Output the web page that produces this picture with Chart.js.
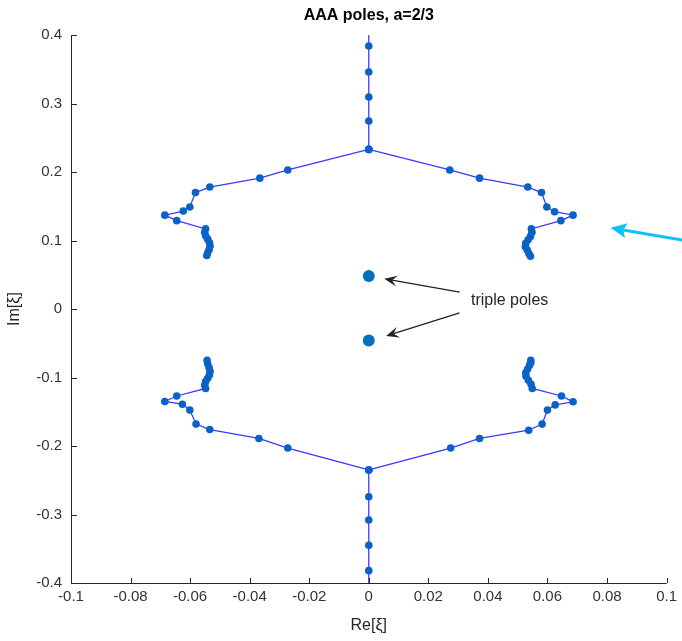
<!DOCTYPE html>
<html>
<head>
<meta charset="utf-8">
<script src="https://cdn.jsdelivr.net/npm/chart.js@4"></script>
<style>
  html, body { margin: 0; padding: 0; background: #fff; }
  canvas { display: block; }
</style>
</head>
<body>
<canvas id="grafico" width="682" height="641"></canvas>
<script>
// poles on the imaginary axis (top and bottom), clipped at the axis limits
const verticalArribaX = [0, 0, 0, 0, 0, 0];
const verticalArribaY = [0.42, 0.384, 0.346, 0.3095, 0.2745, 0.233];
const verticalAbajoX = [0, 0, 0, 0, 0, 0];
const verticalAbajoY = [-0.235, -0.274, -0.308, -0.345, -0.382, -0.42];

// upper left branch, from the junction outwards
const supIzqX = [0, -0.0272, -0.0366, -0.0534, -0.0582, -0.0601, -0.0623, -0.0685, -0.0645, -0.0548, -0.0551, -0.0548, -0.0541, -0.0535, -0.0533, -0.0536, -0.0541, -0.0544];
const supIzqY = [0.233, 0.203, 0.191, 0.178, 0.170, 0.149, 0.143, 0.137, 0.129, 0.117, 0.112, 0.107, 0.102, 0.097, 0.092, 0.087, 0.082, 0.078];

// upper right branch
const supDerX = [0, 0.0272, 0.0372, 0.0534, 0.0580, 0.0598, 0.0624, 0.0686, 0.0645, 0.0546, 0.0548, 0.0543, 0.0535, 0.0527, 0.0526, 0.0532, 0.0538, 0.0543];
const supDerY = [0.233, 0.203, 0.191, 0.178, 0.170, 0.149, 0.142, 0.137, 0.129, 0.117, 0.112, 0.106, 0.101, 0.096, 0.091, 0.086, 0.081, 0.077];

// lower left branch
const infIzqX = [0, -0.0272, -0.0369, -0.0534, -0.0580, -0.0601, -0.0626, -0.0685, -0.0645, -0.0548, -0.0551, -0.0548, -0.0541, -0.0535, -0.0533, -0.0536, -0.0541, -0.0543];
const infIzqY = [-0.235, -0.203, -0.189, -0.176, -0.168, -0.1475, -0.139, -0.135, -0.127, -0.116, -0.111, -0.106, -0.101, -0.096, -0.091, -0.086, -0.080, -0.075];

// lower right branch
const infDerX = [0, 0.0275, 0.0372, 0.0537, 0.0582, 0.0600, 0.0626, 0.0686, 0.0647, 0.0549, 0.0545, 0.0536, 0.0528, 0.0527, 0.0533, 0.0540, 0.0544, 0.0544];
const infDerY = [-0.235, -0.203, -0.189, -0.177, -0.168, -0.1475, -0.140, -0.1355, -0.127, -0.116, -0.110, -0.104, -0.098, -0.093, -0.088, -0.082, -0.078, -0.075];

// triple poles
const tripleX = [0, 0];
const tripleY = [0.048, -0.046];

const ticksX = [-0.1, -0.08, -0.06, -0.04, -0.02, 0, 0.02, 0.04, 0.06, 0.08, 0.1];
const ticksY = [-0.4, -0.3, -0.2, -0.1, 0, 0.1, 0.2, 0.3, 0.4];

const colorLinea = '#3a3aff';
const colorPunto = '#0a62c8';
const colorEje = '#262626';
const fuente = "'Liberation Sans', Arial, Helvetica, sans-serif";

function aPuntos(xs, ys) {
  return xs.map((x, i) => ({ x: x, y: ys[i] }));
}

const ramas = [
  [verticalArribaX, verticalArribaY],
  [verticalAbajoX, verticalAbajoY],
  [supIzqX, supIzqY],
  [supDerX, supDerY],
  [infIzqX, infIzqY],
  [infDerX, infDerY]
];

const datasets = [];
ramas.forEach(r => {
  datasets.push({
    data: aPuntos(r[0], r[1]),
    showLine: true,
    borderColor: colorLinea,
    borderWidth: 1.3,
    pointRadius: 0,
    clip: 0,
    order: 2
  });
});
ramas.forEach(r => {
  datasets.push({
    data: aPuntos(r[0], r[1]),
    showLine: false,
    pointRadius: 3.8,
    pointBackgroundColor: colorPunto,
    pointBorderWidth: 0,
    clip: 0,
    order: 1
  });
});
datasets.push({
  data: aPuntos(tripleX, tripleY),
  showLine: false,
  pointRadius: 6,
  pointBackgroundColor: '#0072BD',
  pointBorderWidth: 0,
  clip: 0,
  order: 0
});

// annotation anchors in data units
const textoNota = 'triple poles';
const notaPos = { x: 0.0473, y: 0.012 };
const flechasNota = [
  { desde: { x: 0.0305, y: 0.0245 }, hasta: { x: 0.0052, y: 0.0440 } },
  { desde: { x: 0.0305, y: -0.0055 }, hasta: { x: 0.0058, y: -0.0395 } }
];
const flechaCian = { desde: { x: 0.1053, y: 0.1005 }, hasta: { x: 0.0812, y: 0.1185 } };

function dibujarFlecha(ctx, x1, y1, x2, y2, color, ancho, largoPunta, anchoPunta, hueco) {
  const ang = Math.atan2(y2 - y1, x2 - x1);
  const bx = x2 - Math.cos(ang) * largoPunta * hueco;
  const by = y2 - Math.sin(ang) * largoPunta * hueco;
  ctx.save();
  ctx.strokeStyle = color;
  ctx.fillStyle = color;
  ctx.lineWidth = ancho;
  ctx.beginPath();
  ctx.moveTo(x1, y1);
  ctx.lineTo(bx, by);
  ctx.stroke();
  const px = -Math.sin(ang), py = Math.cos(ang);
  const baseX = x2 - Math.cos(ang) * largoPunta;
  const baseY = y2 - Math.sin(ang) * largoPunta;
  ctx.beginPath();
  ctx.moveTo(x2, y2);
  ctx.lineTo(baseX + px * anchoPunta / 2, baseY + py * anchoPunta / 2);
  ctx.lineTo(bx, by);
  ctx.lineTo(baseX - px * anchoPunta / 2, baseY - py * anchoPunta / 2);
  ctx.closePath();
  ctx.fill();
  ctx.restore();
}

const extras = {
  id: 'extras',
  afterDraw(chart) {
    const ctx = chart.ctx;
    const sx = chart.scales.x, sy = chart.scales.y;
    const area = chart.chartArea;

    // axes with inward ticks
    ctx.save();
    ctx.strokeStyle = colorEje;
    ctx.lineWidth = 1;
    ctx.beginPath();
    ctx.moveTo(area.left + 0.5, area.top);
    ctx.lineTo(area.left + 0.5, area.bottom + 0.5);
    ctx.lineTo(area.right, area.bottom + 0.5);
    sx.ticks.forEach(t => {
      const px = Math.round(sx.getPixelForValue(t.value)) + 0.5;
      ctx.moveTo(px, area.bottom);
      ctx.lineTo(px, area.bottom - 5);
    });
    sy.ticks.forEach(t => {
      const py = Math.round(sy.getPixelForValue(t.value)) + 0.5;
      ctx.moveTo(area.left, py);
      ctx.lineTo(area.left + 6, py);
    });
    ctx.stroke();

    // title
    ctx.fillStyle = '#000';
    ctx.font = 'bold 16px ' + fuente;
    ctx.textAlign = 'center';
    ctx.textBaseline = 'middle';
    ctx.fillText('AAA poles, a=2/3', (area.left + area.right) / 2, 16);

    // annotation
    ctx.fillStyle = '#262626';
    ctx.font = '16px ' + fuente;
    ctx.fillText(textoNota, sx.getPixelForValue(notaPos.x), sy.getPixelForValue(notaPos.y));
    flechasNota.forEach(f => {
      dibujarFlecha(ctx,
        sx.getPixelForValue(f.desde.x), sy.getPixelForValue(f.desde.y),
        sx.getPixelForValue(f.hasta.x), sy.getPixelForValue(f.hasta.y),
        '#222', 1.3, 13, 11, 0.6);
    });
    dibujarFlecha(ctx,
      sx.getPixelForValue(flechaCian.desde.x), sy.getPixelForValue(flechaCian.desde.y),
      sx.getPixelForValue(flechaCian.hasta.x), sy.getPixelForValue(flechaCian.hasta.y),
      '#10c0f8', 3, 16, 15, 0.8);
    ctx.restore();
  }
};

const formato = v => String(Number(v.toFixed(2)));

new Chart(document.getElementById('grafico'), {
  type: 'scatter',
  data: { datasets: datasets },
  options: {
    responsive: false,
    animation: false,
    devicePixelRatio: 1,
    layout: { padding: { top: 35, right: 13, left: 0, bottom: 0 } },
    plugins: { legend: { display: false }, tooltip: { enabled: false } },
    scales: {
      x: {
        type: 'linear',
        min: -0.1,
        max: 0.1,
        afterBuildTicks: s => { s.ticks = ticksX.map(v => ({ value: v })); },
        afterFit: s => { s.height = 58; },
        ticks: { callback: formato, color: '#333', font: { family: fuente, size: 15 }, padding: 5, maxRotation: 0, autoSkip: false },
        grid: { display: false, drawTicks: false },
        border: { display: false },
        title: { display: true, text: 'Re[ξ]', color: '#262626', font: { family: fuente, size: 16 }, padding: { top: 0, bottom: 6 } }
      },
      y: {
        type: 'linear',
        min: -0.4,
        max: 0.4,
        afterBuildTicks: s => { s.ticks = ticksY.map(v => ({ value: v })); },
        afterFit: s => { s.width = 71; },
        ticks: { callback: formato, color: '#333', font: { family: fuente, size: 15 }, padding: 9, autoSkip: false },
        grid: { display: false, drawTicks: false },
        border: { display: false },
        title: { display: true, text: 'Im[ξ]', color: '#262626', font: { family: fuente, size: 16 }, padding: { top: 5, bottom: 0 } }
      }
    }
  },
  plugins: [extras]
});
</script>
</body>
</html>
